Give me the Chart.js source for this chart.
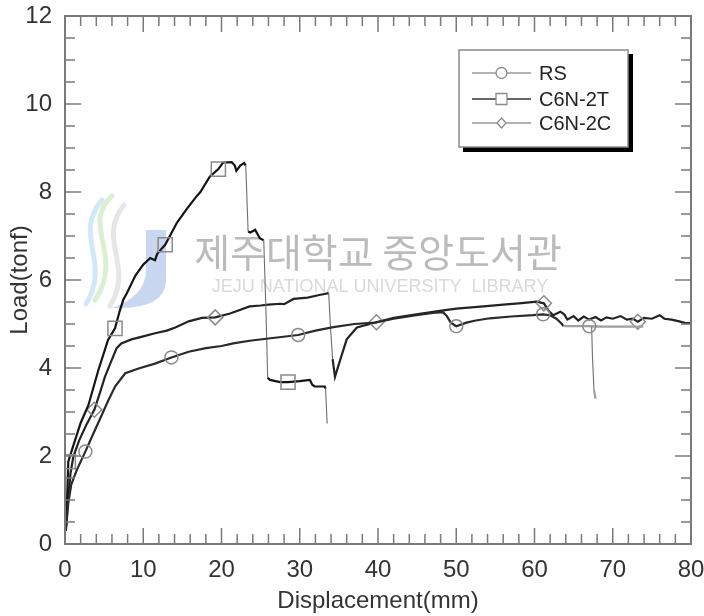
<!DOCTYPE html>
<html>
<head>
<meta charset="utf-8">
<script src="https://cdn.jsdelivr.net/npm/chart.js@4/dist/chart.umd.min.js"></script>
<style>
  html, body { margin: 0; padding: 0; background: #fff; }
  #chart { display: block; }
</style>
</head>
<body>
<canvas id="chart" width="704" height="616"></canvas>
<script>
// values (displacement in mm, load in tonf)
const rsDisp = [0.1, 0.4, 0.8, 1.5, 2.6, 3.6, 4.7, 5.5, 6.4, 7.7, 9.4, 11.5, 13.6, 15.8, 18, 20, 21.5, 23.6, 26, 27.9, 29.8, 32, 34.3, 37, 39.6, 42, 44.9, 47, 48.3, 48.8, 49.3, 50, 51.3, 52.5, 54.3, 57, 59.8, 61.1, 62, 62.8, 63.5, 63.7, 66, 67, 69, 73.9, 67.3, 67.4, 67.6, 67.8];
const rsLoad = [0.3, 0.9, 1.35, 1.68, 2.1, 2.5, 2.93, 3.25, 3.58, 3.88, 3.99, 4.1, 4.24, 4.37, 4.45, 4.5, 4.56, 4.62, 4.67, 4.71, 4.75, 4.85, 4.93, 5.0, 5.03, 5.12, 5.2, 5.25, 5.27, 5.18, 5.03, 4.95, 5.03, 5.08, 5.13, 5.17, 5.2, 5.22, 5.2, 5.12, 5.0, 4.95, 4.95, 4.95, 4.94, 4.94, 4.94, 4.3, 3.5, 3.3];
const rsMarks = [2.6, 13.6, 29.8, 50, 61.1, 67];

const c2tDisp = [0.1, 0.25, 0.42, 1.0, 2.0, 3.0, 4.26, 5.5, 6.39, 7.0, 7.45, 7.9, 9.0, 10.0, 10.9, 11.5, 11.8, 12.8, 14.3, 15.5, 16.8, 17.3, 18.5, 19.6, 20.2, 21.3, 21.7, 21.9, 22.4, 22.9, 23.1, 23.4, 23.7, 24.3, 24.9, 25.4, 25.7, 25.9, 26.2, 27.5, 28.5, 30, 31.3, 31.6, 31.9, 33.2, 33.3, 33.5];
const c2tLoad = [0.3, 0.9, 1.87, 2.2, 2.75, 3.16, 3.95, 4.64, 4.9, 5.3, 5.55, 5.7, 6.1, 6.35, 6.5, 6.45, 6.6, 6.8, 7.3, 7.6, 7.9, 8.0, 8.35, 8.52, 8.67, 8.68, 8.6, 8.48, 8.6, 8.66, 8.6, 7.1, 7.08, 7.14, 6.95, 6.9, 5.2, 3.78, 3.73, 3.68, 3.68, 3.7, 3.73, 3.62, 3.58, 3.58, 3.53, 2.74];
const c2tMarks = [0.42, 6.39, 12.8, 19.6, 28.5];

const c2cDisp = [0.1, 0.4, 0.7, 1.06, 1.8, 2.7, 3.75, 4.4, 5.1, 5.9, 6.6, 7.2, 8.5, 10, 11.5, 13, 14.1, 15.8, 17.5, 19.2, 21.1, 23.6, 25, 26, 27.5, 28, 29.2, 31, 32.5, 33.7, 33.9, 34.2, 34.5, 35.2, 36, 37.3, 39.8, 42, 44.9, 47.9, 50, 53.5, 56, 58, 60.3, 61.2, 61.8, 62.4, 63.3, 63.8, 64.2, 65, 65.6, 66.3, 67, 67.8, 68.5, 69.2, 70, 71, 71.8, 72.6, 73.2, 74, 75, 76, 76.6, 77.5, 78.5, 79.3, 80];
const c2cLoad = [0.3, 1.0, 1.6, 1.98, 2.35, 2.7, 3.05, 3.4, 3.8, 4.15, 4.45, 4.56, 4.65, 4.72, 4.79, 4.85, 4.92, 5.06, 5.14, 5.15, 5.24, 5.4, 5.42, 5.44, 5.46, 5.45, 5.57, 5.6, 5.66, 5.7, 5.0, 4.2, 3.8, 4.2, 4.65, 4.92, 5.04, 5.14, 5.22, 5.3, 5.35, 5.4, 5.44, 5.47, 5.51, 5.47, 5.3, 5.2, 5.28, 5.22, 5.1, 5.18, 5.08, 5.17, 5.1, 5.16, 5.08, 5.15, 5.12, 5.18, 5.1, 5.12, 5.05, 5.14, 5.12, 5.2, 5.12, 5.1, 5.06, 5.02, 5.02];
const c2cMarks = [3.75, 19.2, 39.8, 61.2, 73.2];

const xTicks = [0, 10, 20, 30, 40, 50, 60, 70, 80];
const yTicks = [0, 2, 4, 6, 8, 10, 12];
const seriesNames = ['RS', 'C6N-2T', 'C6N-2C'];

const toPoints = (xs, ys) => xs.map((x, i) => ({ x: x, y: ys[i] }));

// steep load drops are drawn as a thin grey trace, like the reference
const isDrop = ctx => {
  const a = ctx.p0.parsed, b = ctx.p1.parsed;
  return a.x > 15 && Math.abs(b.y - a.y) > 0.5 && Math.abs(b.x - a.x) < 1.2;
};

function makeSet(label, xs, ys, marks, style, color, width, greyFrom) {
  return {
    label: label,
    data: toPoints(xs, ys),
    borderColor: color,
    borderWidth: width,
    tension: 0,
    pointStyle: style,
    pointRadius: ctx => {
      const p = ctx.raw;
      if (!p || !marks.includes(p.x)) return 0;
      if (style === 'rect') return 10;
      return style === 'rectRot' ? 7.5 : 6.5;
    },
    pointBackgroundColor: 'rgba(255,255,255,0)',
    pointBorderColor: '#8a8a8a',
    pointBorderWidth: 1.5,
    segment: {
      borderColor: ctx => {
        if (isDrop(ctx)) return '#6f6f6f';
        if (greyFrom !== null && ctx.p0.parsed.x >= greyFrom && ctx.p1.parsed.x >= greyFrom) return '#a0a0a0';
        return undefined;
      },
      borderWidth: ctx => isDrop(ctx) ? 1.1 : undefined
    }
  };
}

// frame with inward ticks on all four sides + legend box + watermark
const framePlugin = {
  id: 'frame',
  beforeDatasetsDraw(chart) {
    const c = chart.ctx;
    c.save();
    // logo swirl
    c.lineCap = 'round';
    c.lineWidth = 5;
    c.strokeStyle = 'rgba(170,215,140,0.4)';
    c.beginPath(); c.moveTo(112, 196); c.bezierCurveTo(80, 225, 125, 255, 95, 300); c.stroke();
    c.strokeStyle = 'rgba(140,200,235,0.4)';
    c.beginPath(); c.moveTo(102, 200); c.bezierCurveTo(72, 235, 112, 262, 86, 304); c.stroke();
    c.strokeStyle = 'rgba(200,200,200,0.45)';
    c.beginPath(); c.moveTo(124, 205); c.bezierCurveTo(96, 240, 135, 265, 110, 306); c.stroke();
    // blue J
    c.fillStyle = 'rgba(150,175,225,0.5)';
    c.beginPath();
    c.moveTo(146, 230); c.lineTo(166, 230); c.lineTo(166, 282);
    c.quadraticCurveTo(164, 310, 112, 308);
    c.quadraticCurveTo(146, 296, 146, 270);
    c.closePath(); c.fill();
    // watermark text
    c.fillStyle = 'rgba(150,150,150,0.65)';
    c.font = '39px "Noto Sans CJK KR"';
    c.textAlign = 'center';
    c.textBaseline = 'middle';
    c.fillText('제주대학교 중앙도서관', 378, 252);
    c.fillStyle = 'rgba(185,185,185,0.55)';
    c.font = '18px "Liberation Sans", Arial';
    c.fillText('JEJU NATIONAL UNIVERSITY  LIBRARY', 380, 287);
    c.restore();
  },
  afterDraw(chart) {
    const c = chart.ctx;
    const xs = chart.scales.x, ys = chart.scales.y;
    const L = xs.left, R = xs.right, T = ys.top, B = ys.bottom;
    c.save();
    c.strokeStyle = '#7a7a7a';
    c.lineWidth = 2;
    c.strokeRect(L, T, R - L, B - T);
    c.lineWidth = 1.5;
    c.beginPath();
    for (let v = 0; v <= 80; v += 2) {
      const px = xs.getPixelForValue(v);
      const len = v % 10 === 0 ? 16 : 10;
      c.moveTo(px, B); c.lineTo(px, B - len);
      c.moveTo(px, T); c.lineTo(px, T + len);
    }
    for (let v = 0; v <= 12; v += 0.5) {
      const py = ys.getPixelForValue(v);
      const len = v % 2 === 0 ? 16 : 10;
      c.moveTo(L, py); c.lineTo(L + len, py);
      c.moveTo(R, py); c.lineTo(R - len, py);
    }
    c.stroke();

    // legend
    c.fillStyle = '#000';
    c.fillRect(463, 54, 170, 98);
    c.fillStyle = '#fff';
    c.fillRect(459, 50, 169, 97);
    c.strokeStyle = '#8a8a8a';
    c.lineWidth = 1.5;
    c.strokeRect(459, 50, 169, 97);
    const rows = [73, 99, 123];
    const lineCols = ['#9a9a9a', '#333', '#9a9a9a'];
    c.font = '20px "Liberation Sans", Arial';
    c.textAlign = 'left';
    c.textBaseline = 'middle';
    rows.forEach((y, i) => {
      c.strokeStyle = lineCols[i];
      c.lineWidth = 1.6;
      c.beginPath(); c.moveTo(472, y); c.lineTo(531, y); c.stroke();
      c.strokeStyle = '#8a8a8a';
      c.fillStyle = '#fff';
      c.lineWidth = 1.3;
      c.beginPath();
      if (i === 0) c.arc(501.5, y, 5.5, 0, Math.PI * 2);
      else if (i === 1) c.rect(496, y - 5.5, 11, 11);
      else { c.moveTo(501.5, y - 5); c.lineTo(506, y); c.lineTo(501.5, y + 5); c.lineTo(497, y); c.closePath(); }
      c.fill(); c.stroke();
      c.fillStyle = '#222';
      c.fillText(seriesNames[i], 539, y + 1);
    });
    c.restore();
  }
};

const tickFont = { family: '"Liberation Sans", Arial', size: 24 };

new Chart(document.getElementById('chart'), {
  type: 'line',
  data: {
    datasets: [
      makeSet(seriesNames[0], rsDisp, rsLoad, rsMarks, 'circle', '#2a2a2a', 2.2, 63.6),
      makeSet(seriesNames[1], c2tDisp, c2tLoad, c2tMarks, 'rect', '#151515', 2.2, null),
      makeSet(seriesNames[2], c2cDisp, c2cLoad, c2cMarks, 'rectRot', '#232323', 2.2, null)
    ]
  },
  options: {
    responsive: false,
    devicePixelRatio: 1,
    animation: false,
    layout: { padding: { left: 0, top: 16, right: 13, bottom: 0 } },
    plugins: { legend: { display: false }, tooltip: { enabled: false } },
    scales: {
      x: {
        type: 'linear',
        min: 0, max: 80,
        afterBuildTicks: s => { s.ticks = xTicks.map(v => ({ value: v })); },
        afterFit: s => { s.height = 72; s.paddingLeft = 0; s.paddingRight = 0; },
        grid: { display: false, drawTicks: false },
        border: { display: false },
        ticks: { color: '#333', font: tickFont, padding: 12, maxRotation: 0 },
        title: { display: true, text: 'Displacement(mm)', color: '#333', font: tickFont, padding: { top: 2, bottom: 0 } }
      },
      y: {
        min: 0, max: 12,
        afterBuildTicks: s => { s.ticks = yTicks.map(v => ({ value: v })); },
        afterFit: s => { s.width = 65; s.paddingTop = 0; s.paddingBottom = 0; },
        grid: { display: false, drawTicks: false },
        border: { display: false },
        ticks: { color: '#333', font: tickFont, padding: 13 },
        title: { display: true, text: 'Load(tonf)', color: '#333', font: tickFont, padding: { top: 6, bottom: 0 } }
      }
    }
  },
  plugins: [framePlugin]
});
</script>
</body>
</html>
